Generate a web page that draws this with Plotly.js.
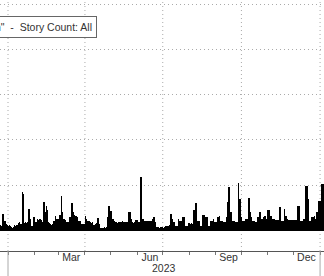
<!DOCTYPE html>
<html>
<head>
<meta charset="utf-8">
<script src="https://cdn.plot.ly/plotly-3.0.1.min.js"></script>
<style>
html,body{margin:0;padding:0;background:#fff;}
#chart{width:324px;height:276px;}
</style>
</head>
<body>
<div id="chart"></div>
<script>
// Daily story counts, starting 2022-12-22
const startDate = '2022-12-22';
const storyCount = [
  2, 2.5, 2.2, 2.2, 7.3, 7.3, 4.4, 4.4, 3, 2.5,
  1.5, 2, 2.5, 2, 1.5, 1, 1.5, 2, 2.5, 2,
  2.6, 2.6, 3.2, 3.6, 3.6, 3, 3, 17.2, 16, 3.5,
  3.6, 3.6, 3.2, 3.8, 9.5, 9.5, 5, 2.2, 2, 2.2,
  6.1, 6, 3.6, 3.6, 5.1, 5.1, 4.5, 5, 5.1, 4.8,
  3.6, 3.4, 12.4, 12.4, 8, 11, 9, 3.6, 3.6, 3.2,
  2.9, 2.6, 3, 4.4, 4.4, 6.6, 6.6, 5, 5.1, 5,
  6.9, 6.9, 15.3, 15.3, 8, 5.1, 5.1, 4.5, 3.6, 3.6,
  3.6, 3.6, 5.8, 5.8, 12, 12, 8.3, 8.3, 7, 6.6,
  6.6, 6, 4.1, 4.1, 4, 4.1, 2.9, 2.9, 3, 2.9,
  6.6, 6.6, 5, 4.4, 4.4, 4, 3.6, 3.6, 3.2, 3.6,
  2.6, 2.6, 2.8, 2.6, 3.5, 5.4, 5.4, 3, 1.2, 1.2,
  1.2, 1, 1.2, 1.5, 1.2, 1.5, 5.8, 5.8, 11, 11,
  8.8, 8.8, 5.1, 5.1, 5, 4, 3.6, 3.6, 3.4, 3.6,
  3.9, 4, 3.6, 3.9, 4, 3.9, 3.6, 3.9, 4, 3.6,
  3.6, 8, 8, 8, 5, 3.6, 3.6, 3.4, 3.6, 4.5,
  4.7, 4.7, 3.6, 3.6, 3.6, 23.8, 23.8, 5.1, 5.1, 5,
  4.4, 4.4, 4, 4.4, 4.4, 4.2, 4.4, 4.4, 4, 5,
  6.1, 6.1, 3.6, 3.6, 1.5, 1.5, 1.5, 1.2, 1.5, 1.5,
  1.5, 1.5, 1.2, 1.5, 2.2, 2.2, 2, 2.2, 2.2, 2.5,
  7.3, 7.3, 5, 3.6, 3.6, 3.6, 2.2, 2.2, 2.2, 5.1,
  5.1, 4.4, 4.4, 4.4, 5.8, 5.8, 5.8, 2.2, 2.2, 2.2,
  2.2, 3.2, 3.2, 3, 3.2, 3.2, 3, 9, 9, 12.1,
  12.1, 12.1, 4.4, 4.4, 4.4, 2.2, 2.2, 6.9, 6.9, 6.9,
  6.9, 5.8, 5.8, 5.8, 2.2, 2.2, 2.2, 4.4, 4.4, 4.4,
  5.1, 5.1, 3.6, 3.6, 3.6, 5.8, 5.8, 6.6, 6.6, 4.4,
  4.4, 4.4, 3.6, 3.6, 3.6, 5.8, 5.8, 12.4, 19, 19,
  8, 8, 8, 4.4, 4.4, 4.4, 3.6, 3.6, 3.6, 21.2,
  21.2, 13.9, 13.9, 6, 4.4, 4.4, 4.4, 4.4, 5.1, 5.1,
  5.1, 14.3, 14.3, 8, 8, 6, 4.4, 4.4, 4.4, 3.6,
  3.6, 3.6, 5.8, 5.8, 8, 8, 5.1, 5.1, 5.1, 6,
  6.6, 6.6, 5.1, 5.1, 9, 9, 9, 6.6, 6.6, 5.1,
  5.1, 5.1, 5, 4.7, 4.7, 4.7, 4.7, 10.2, 10.2, 10.2,
  4.4, 4.4, 4.4, 9.5, 9.5, 6.6, 6.6, 5, 4.8, 4.8,
  4.8, 4.8, 4.8, 4.5, 4.7, 4.7, 4.7, 4.7, 4.7, 11,
  11, 11, 4.4, 4.4, 4.4, 4.4, 5.1, 5.1, 19.7, 19.7,
  19.7, 13.9, 4.4, 4.4, 4.4, 6.1, 6.1, 6.1, 6.6, 5.1,
  5.1, 8.3, 8.3, 13.1, 13.1, 13.1, 20.4, 20.4, 20.4, 20.4
];
const seriesName = '"Recession" - Story Count: All';
const monthLabelDates = ['2022-12-16', '2023-03-16', '2023-06-16', '2023-09-16', '2023-12-16'];
const monthLabels = ['Dec', 'Mar', 'Jun', 'Sep', 'Dec'];
const monthStarts = ['2022-12-01','2023-01-01','2023-02-01','2023-03-01','2023-04-01','2023-05-01','2023-06-01',
  '2023-07-01','2023-08-01','2023-09-01','2023-10-01','2023-11-01','2023-12-01','2024-01-01'];
const quarterStarts = ['2023-01-01', '2023-04-01', '2023-07-01', '2023-10-01', '2024-01-01'];
const yearStarts = ['2023-01-01', '2024-01-01'];
const yearLabel = '2023';
const yearLabelDate = '2023-07-02';

function dayString(i) {
  const d = new Date(startDate + 'T00:00:00Z');
  d.setUTCDate(d.getUTCDate() + i);
  return d.toISOString().slice(0, 10);
}
const dates = storyCount.map((_, i) => dayString(i));

const FONT = 'Liberation Sans, Arial, sans-serif';
const TXT = '#333';

const trace = {
  type: 'bar',
  x: dates,
  y: storyCount,
  name: seriesName,
  marker: {color: '#000', line: {width: 0}},
  showlegend: false,
  hoverinfo: 'skip'
};

const shapes = [];
quarterStarts.forEach(q => shapes.push({
  type: 'line', xref: 'x', yref: 'paper', x0: q, x1: q, y0: 0, y1: 1,
  line: {color: '#aaa', width: 1, dash: '1px,3px'}, layer: 'below'
}));
yearStarts.forEach(q => shapes.push({
  type: 'line', xref: 'x', yref: 'paper', x0: q, x1: q, y0: 0, y1: -25/251,
  line: {color: '#aaa', width: 1}, layer: 'above'
}));

const layout = {
  width: 324, height: 276,
  margin: {l: 0, r: 0, t: 0, b: 25, pad: 0, autoexpand: false},
  paper_bgcolor: '#fff', plot_bgcolor: '#fff',
  bargap: 0,
  font: {family: FONT, size: 10.5, color: TXT},
  xaxis: {
    type: 'date',
    range: ['2022-12-22 15:20', '2024-01-05 14:20'],
    tickmode: 'array', tickvals: monthLabelDates, ticktext: monthLabels,
    ticks: '', showgrid: false, zeroline: false,
    showline: true, linecolor: '#555', linewidth: 1,
    ticklabelstandoff: -4,
    tickfont: {family: FONT, size: 10.5, color: TXT},
    minor: {tickmode: 'array', tickvals: monthStarts, ticks: 'outside', ticklen: 3, tickcolor: '#777', showgrid: false},
    fixedrange: true
  },
  yaxis: {
    range: [-9.05, 101.8],
    tickmode: 'linear', tick0: 0, dtick: 20,
    showticklabels: false, ticks: '',
    showgrid: true, gridcolor: '#aaa', griddash: '1px,3px', gridwidth: 1,
    zeroline: false, showline: false, fixedrange: true
  },
  showlegend: false,
  shapes: shapes,
  annotations: [
    {
      xref: 'x', yref: 'paper', x: yearLabelDate, y: -17/251, yanchor: 'middle', xanchor: 'center',
      text: yearLabel, showarrow: false, font: {family: FONT, size: 10.5, color: TXT}
    },
    {
      xref: 'paper', yref: 'paper', x: 97/324, xanchor: 'right', y: 1 - 27/251, yanchor: 'middle',
      text: seriesName.replace(' - ', '&nbsp; - &nbsp;'), showarrow: false,
      bgcolor: '#fff', bordercolor: '#666', borderwidth: 1, borderpad: 4,
      font: {family: FONT, size: 10.5, color: TXT}
    }
  ]
};

Plotly.newPlot('chart', [trace], layout, {staticPlot: true, displayModeBar: false});
</script>
</body>
</html>
